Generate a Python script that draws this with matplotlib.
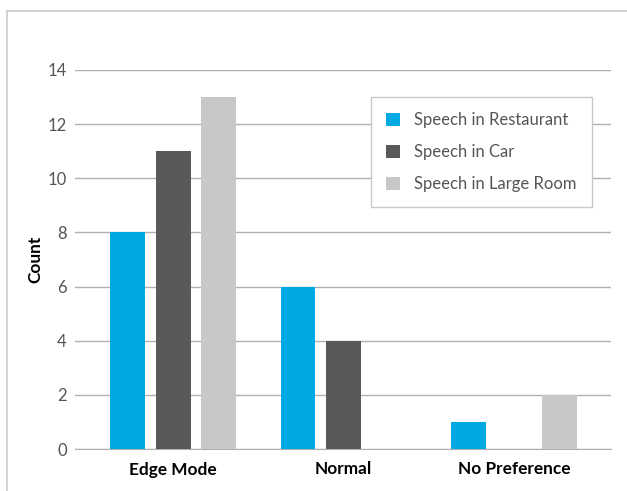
import matplotlib
matplotlib.use('Agg')
import matplotlib.pyplot as plt
from matplotlib.lines import Line2D
import numpy as np

plt.rcParams['font.family'] = ['Lato', 'DejaVu Sans']

categories = ['Edge Mode', 'Normal', 'No Preference']
series = ['Speech in Restaurant', 'Speech in Car', 'Speech in Large Room']
restaurant = [8, 6, 1]
car = [11, 4, 0]
large_room = [13, 0, 2]
yticks = [0, 2, 4, 6, 8, 10, 12, 14]

cols = ['#00a8e4', '#58595b', '#c7c8c8']
values = [restaurant, car, large_room]

fig = plt.figure(figsize=(6.27, 4.91), dpi=100)
ax = fig.add_axes([75/627, 1-449/491, (611-75)/627, (449-70)/491])

x = np.arange(len(categories))
width = 0.205
offset = 0.267
for i, (name, vals) in enumerate(zip(series, values)):
	ax.bar(x + (i-1)*offset, vals, width, color=cols[i], label=name, zorder=3)

ax.set_xlim(-0.575, 2.569)
ax.set_ylim(0, 14)
ax.set_yticks(yticks)
ax.set_yticklabels([str(t) for t in yticks])
ax.set_xticks(x)
ax.set_xticklabels(categories, fontweight='bold', fontsize=12.4, color='black')
ax.yaxis.grid(True, color='#b0b0b0', linewidth=1, zorder=0)
ax.tick_params(axis='both', length=0)
ax.tick_params(axis='y', labelsize=12, labelcolor='#555555', pad=6)
ax.tick_params(axis='x', pad=9)
for s in ax.spines.values():
	s.set_visible(False)
ax.spines['bottom'].set_visible(True)
ax.spines['bottom'].set_color('#b0b0b0')
ax.set_ylabel('Count', fontweight='bold', fontsize=12.4, color='black')
ax.yaxis.set_label_coords((43-75)/536, 0.5)

leg = ax.legend(loc='upper right', bbox_to_anchor=((592-75)/(611-75), (449-97)/(449-70)),
	borderaxespad=0, fontsize=12, frameon=True, fancybox=False, edgecolor='#c8c8c8', framealpha=1,
	handlelength=0.85, handleheight=0.85, labelspacing=0.97, borderpad=0.9, handletextpad=0.85)
leg.get_frame().set_linewidth(1)
for t in leg.get_texts():
	t.set_color('#555555')

# outer frame (left and top edges visible)
fig.add_artist(Line2D([7/627, 7/627], [0, 1-11/491], color='#cccccc', linewidth=1.2))
fig.add_artist(Line2D([7/627, 1], [1-11/491, 1-11/491], color='#cccccc', linewidth=1.2))

fig.savefig('out.png', dpi=100)
